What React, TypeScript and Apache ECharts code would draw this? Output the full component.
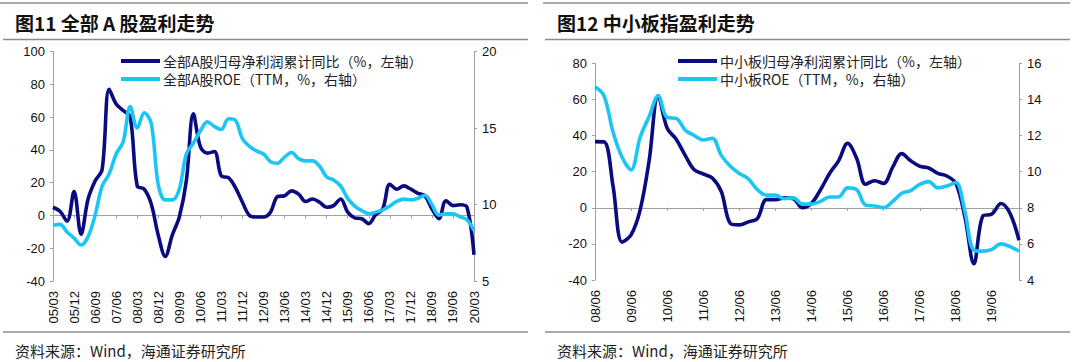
import React, { useEffect, useRef } from "react";
import * as echarts from "echarts";

// ---------- data ----------
const catsA = [
  "05/03","05/06","05/09","05/12","06/03","06/06","06/09","06/12",
  "07/03","07/06","07/09","07/12","08/03","08/06","08/09","08/12",
  "09/03","09/06","09/09","09/12","10/03","10/06","10/09","10/12",
  "11/03","11/06","11/09","11/12","12/03","12/06","12/09","12/12",
  "13/03","13/06","13/09","13/12","14/03","14/06","14/09","14/12",
  "15/03","15/06","15/09","15/12","16/03","16/06","16/09","16/12",
  "17/03","17/06","17/09","17/12","18/03","18/06","18/09","18/12",
  "19/03","19/06","19/09","19/12","20/03",
];
const profitA = [
  5, 2.5, -3.5, 14.5, -11.5, 10, 21, 28, 77, 68,
  64, 60, 18, 16, 7, -12, -25, -12, -1, 21,
  62, 42, 38, 39, 24, 23, 17, 8, 0, -1,
  -1, 2, 11.5, 12, 15, 13, 8.5, 10, 8, 5,
  6, 10, 2, -1.5, -2, -5, 0.5, 4, 19, 16,
  18, 16, 13.5, 12, 4, -2, 9, 6, 6.5, 5,
  -24,
];
const roeA = [
  8.65, 8.7, 8.2, 7.8, 7.35, 7.9, 9.3, 11.2, 12.0, 13.3,
  14.1, 16.4, 15.0, 16.0, 15.3, 11.3, 10.3, 10.3, 11.0, 13.3,
  14.0, 14.8, 15.4, 15.1, 14.9, 15.6, 15.5, 14.3, 13.8, 13.5,
  13.3, 12.8, 12.7, 13.1, 13.4, 13.0, 12.85, 12.85, 12.5, 11.8,
  11.6, 11.2, 10.4, 9.9, 9.6, 9.4, 9.5, 9.65, 9.9, 10.2,
  10.35, 10.3, 10.4, 10.6, 10.0, 9.3, 9.4, 9.4, 9.2, 9.0,
  8.3,
];

const catsB = [
  "08/06","08/09","08/12","09/03","09/06","09/09","09/12","10/03",
  "10/06","10/09","10/12","11/03","11/06","11/09","11/12","12/03",
  "12/06","12/09","12/12","13/03","13/06","13/09","13/12","14/03",
  "14/06","14/09","14/12","15/03","15/06","15/09","15/12","16/03",
  "16/06","16/09","16/12","17/03","17/06","17/09","17/12","18/03",
  "18/06","18/09","18/12","19/03","19/06","19/09","19/12","20/03",
];
const profitB = [
  36.6, 36.5, 12, -19, -15, -1.3, 26, 62, 44, 38,
  29, 21, 18.7, 16.5, 9, -8.6, -9.5, -7.8, -6, 4.5,
  4.5, 5.5, 5, 0, 2.5, 10, 19, 26, 35.7, 27.4,
  13, 15, 13.5, 22.5, 30, 26, 23, 22, 19, 17.6,
  13.5, -5, -31, -4.5, -3.5, 2.4, -3, -18,
];
const roeB = [
  14.7, 14.2, 12.2, 10.8, 10.1, 11.9, 13.05, 14.2, 13.0, 12.95,
  12.3, 12.0, 11.75, 11.85, 10.9, 10.3, 9.9, 9.6, 9.0, 8.7,
  8.7, 8.5, 8.55, 8.2, 8.2, 8.35, 8.6, 8.6, 9.1, 9.0,
  8.15, 8.1, 8.0, 8.35, 8.8, 8.95, 9.3, 9.45, 9.1, 9.2,
  9.4, 7.8, 5.65, 5.6, 5.7, 6.0, 5.85, 5.6,
];

const nameA1 = "全部A股归母净利润累计同比（%，左轴）";
const nameA2 = "全部A股ROE（TTM，%，右轴）";
const nameB1 = "中小板归母净利润累计同比（%，左轴）";
const nameB2 = "中小板ROE（TTM，%，右轴）";

const titleA = "图11 全部 A 股盈利走势";
const titleB = "图12 中小板指盈利走势";
const source = "资料来源：Wind，海通证券研究所";

// ---------- styles ----------
const DARK = "#0b0b80";
const LIGHT = "#1cc6f4";
const AXIS = "#a0a0a0";
const SEP = "#8c8c8c";
const NUM_FONT = "Liberation Sans";
const CJK_FONT = "Noto Sans CJK SC";

function xAxes(grid: number, cats: string[], every: number) {
  return [
    {
      type: "category",
      gridIndex: grid,
      data: cats,
      boundaryGap: false,
      position: "bottom",
      axisLine: { show: false, onZero: false },
      axisTick: { show: false },
      splitLine: { show: false },
      axisLabel: {
        interval: every - 1,
        rotate: 90,
        margin: 10,
        fontSize: 13,
        fontFamily: NUM_FONT,
        color: "#111",
      },
    },
    {
      type: "category",
      gridIndex: grid,
      data: cats,
      boundaryGap: false,
      position: "bottom",
      axisLine: { show: true, onZero: true, lineStyle: { color: AXIS, width: 1 } },
      axisTick: { show: true, interval: every - 1, length: 3, lineStyle: { color: AXIS } },
      axisLabel: { show: false },
      splitLine: { show: false },
    },
  ];
}

function yAxis(grid: number, pos: string, min: number, max: number, interval: number) {
  return {
    type: "value",
    gridIndex: grid,
    position: pos,
    min,
    max,
    interval,
    axisLine: { show: true, onZero: false, lineStyle: { color: AXIS, width: 1 } },
    axisTick: { show: true, length: 3, lineStyle: { color: AXIS } },
    splitLine: { show: false },
    axisLabel: { margin: 8, fontSize: 13, fontFamily: NUM_FONT, color: "#111" },
  };
}

function lineSeries(name: string, data: number[], color: string, xi: number, yi: number) {
  return {
    type: "line",
    name,
    data,
    xAxisIndex: xi,
    yAxisIndex: yi,
    smooth: 0.35,
    symbol: "none",
    lineStyle: { color, width: 3.6 },
    itemStyle: { color },
  };
}

function hLine(x1: number, x2: number, y: number) {
  return {
    type: "line",
    shape: { x1, y1: y, x2, y2: y },
    style: { stroke: SEP, lineWidth: 1.6 },
    silent: true,
  };
}

function txt(text: string, x: number, y: number, font: string, fill = "#111") {
  return {
    type: "text",
    x,
    y,
    style: { text, font, fill, verticalAlign: "middle", align: "left" },
    silent: true,
  };
}

export default function App() {
  const ref = useRef<HTMLDivElement>(null);

  useEffect(() => {
    document.body.style.margin = "0";
    if (!ref.current) return;
    const chart = echarts.init(ref.current, undefined, { renderer: "svg" });

    const legendCommon = {
      orient: "vertical",
      itemWidth: 39,
      itemHeight: 4,
      itemGap: 4,
      icon: "rect",
      textStyle: { fontSize: 14, fontFamily: CJK_FONT, color: "#222", padding: [0, 0, 0, -2] },
    };

    chart.setOption({
      animation: false,
      backgroundColor: "#ffffff",
      grid: [
        { left: 53, right: 1080 - 474, top: 51.5, bottom: 362 - 281, containLabel: false },
        { left: 595, right: 1080 - 1019, top: 63.3, bottom: 362 - 280, containLabel: false },
      ],
      xAxis: [...xAxes(0, catsA, 3), ...xAxes(1, catsB, 4)],
      yAxis: [
        yAxis(0, "left", -40, 100, 20),
        yAxis(0, "right", 5, 20, 5),
        yAxis(1, "left", -40, 80, 20),
        yAxis(1, "right", 4, 16, 2),
      ],
      legend: [
        { ...legendCommon, left: 116, top: 49, data: [nameA1, nameA2] },
        { ...legendCommon, left: 673, top: 49, data: [nameB1, nameB2] },
      ],
      series: [
        lineSeries(nameA1, profitA, DARK, 0, 0),
        lineSeries(nameA2, roeA, LIGHT, 0, 1),
        lineSeries(nameB1, profitB, DARK, 2, 2),
        lineSeries(nameB2, roeB, LIGHT, 2, 3),
      ],
      graphic: [
        hLine(0, 528, 3),
        hLine(3, 528, 39.5),
        hLine(3, 528, 332),
        hLine(543, 1070, 3),
        hLine(545, 1070, 39.5),
        hLine(545, 1070, 332),
        txt(titleA, 15, 22, `bold 19px "${CJK_FONT}"`),
        txt(titleB, 557, 22, `bold 19px "${CJK_FONT}"`),
        txt(source, 15, 350, `15px "${CJK_FONT}"`, "#222"),
        txt(source, 557, 350, `15px "${CJK_FONT}"`, "#222"),
      ],
    });

    return () => chart.dispose();
  }, []);

  return <div ref={ref} style={{ width: 1080, height: 362 }} />;
}
